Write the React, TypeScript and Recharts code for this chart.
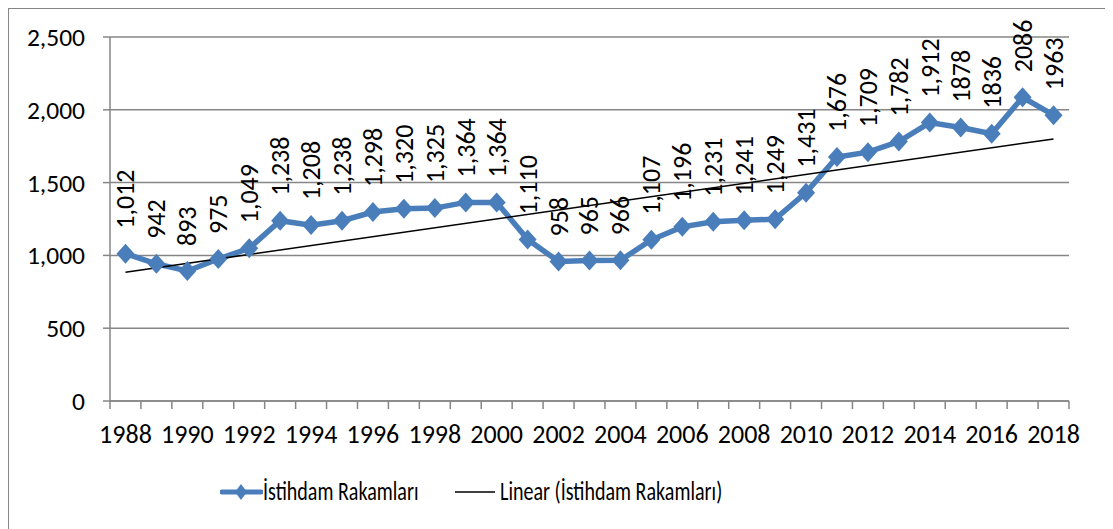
import React from 'react';
import { ComposedChart, Line, XAxis, YAxis, CartesianGrid, Legend, LabelList } from 'recharts';

// employment figures per year (thousands)
const YEARS = [
    1988, 1989, 1990, 1991, 1992, 1993, 1994, 1995, 1996, 1997, 1998, 1999, 2000, 2001, 2002, 2003,
    2004, 2005, 2006, 2007, 2008, 2009, 2010, 2011, 2012, 2013, 2014, 2015, 2016, 2017, 2018,
];
const VALUES = [
    1012, 942, 893, 975, 1049, 1238, 1208, 1238, 1298, 1320, 1325, 1364, 1364, 1110, 958, 965,
    966, 1107, 1196, 1231, 1241, 1249, 1431, 1676, 1709, 1782, 1912, 1878, 1836, 2086, 1963,
];
const LABELS = [
    '1,012', '942', '893', '975', '1,049', '1,238', '1,208', '1,238', '1,298', '1,320', '1,325', '1,364', '1,364', '1,110', '958', '965',
    '966', '1,107', '1,196', '1,231', '1,241', '1,249', '1,431', '1,676', '1,709', '1,782', '1,912', '1878', '1836', '2086', '1963',
];
// Excel linear trendline endpoints
const TREND_YEARS = [1988, 2018];
const TREND_VALUES = [885, 1800];

const Y_TICKS = [0, 500, 1000, 1500, 2000, 2500];
const X_LABEL_TICKS = [1988, 1990, 1992, 1994, 1996, 1998, 2000, 2002, 2004, 2006, 2008, 2010, 2012, 2014, 2016, 2018];

const SERIES_NAME = 'İstihdam Rakamları';
const TREND_NAME = 'Linear (İstihdam Rakamları)';

const BLUE = '#4A7EBB';
const GRAY = '#868686';
const FONT = 'Carlito, Calibri, Lato, sans-serif';

const data = YEARS.map((year, i) => ({ year, value: VALUES[i], label: LABELS[i] }));
const trendData = TREND_YEARS.map((year, i) => ({ year, trend: TREND_VALUES[i] }));
// tick marks sit between categories, like Excel
const boundaryTicks = [...YEARS.map((y) => y - 0.5), YEARS[YEARS.length - 1] + 0.5];

const renderDiamond = (props: any) => {
    const { cx, cy, index } = props;
    if (cx == null || cy == null) return <g key={`d-${index}`} />;
    return (
        <polygon
            key={`d-${index}`}
            points={`${cx},${cy - 10} ${cx + 9},${cy} ${cx},${cy + 10} ${cx - 9},${cy}`}
            fill={BLUE}
        />
    );
};

const RotatedLabel = (props: any) => {
    const { x, y, value } = props;
    const ty = y - 25;
    return (
        <text x={x} y={ty} transform={`rotate(-90, ${x}, ${ty})`} textAnchor="start" dominantBaseline="central" fontSize={26} fill="#000" fontFamily={FONT}>
            {value}
        </text>
    );
};

// legend text in the source is a condensed face
const squeezed: React.CSSProperties = { display: 'inline-block', transform: 'scaleX(0.77)', transformOrigin: 'left center', whiteSpace: 'nowrap' };

const LegendBox = () => (
    <div style={{ height: 80, position: 'relative', fontFamily: FONT, fontSize: 26, color: '#000' }}>
        <svg width={43} height={20} style={{ position: 'absolute', left: 211, top: 31 }}>
            <line x1={2} y1={10} x2={41} y2={10} stroke={BLUE} strokeWidth={5} strokeLinecap="round" />
            <polygon points="21,2 27,10 21,18 15,10" fill={BLUE} />
        </svg>
        <span style={{ ...squeezed, position: 'absolute', left: 254, top: 24 }}>{SERIES_NAME}</span>
        <svg width={41} height={16} style={{ position: 'absolute', left: 446, top: 33 }}>
            <line x1={0} y1={8} x2={40} y2={8} stroke="#000" strokeWidth={1.5} />
        </svg>
        <span style={{ ...squeezed, position: 'absolute', left: 491, top: 24 }}>{TREND_NAME}</span>
    </div>
);

export default function App() {
    return (
        <div style={{ width: 1098, height: 522, border: `1px solid ${GRAY}`, background: '#fff' }}>
            <ComposedChart width={1098} height={522} data={data} margin={{ top: 28, right: 38, bottom: 0, left: 0 }}>
                <CartesianGrid vertical={false} stroke={GRAY} strokeWidth={1.5} xAxisId={0} />
                <XAxis
                    xAxisId={0}
                    type="number"
                    dataKey="year"
                    domain={[1987.5, 2018.5]}
                    ticks={boundaryTicks}
                    interval={0}
                    tick={() => <g />}
                    tickLine={{ stroke: GRAY, strokeWidth: 1.5 }}
                    tickSize={8}
                    height={7}
                    stroke={GRAY}
                    strokeWidth={1.5}
                />
                <XAxis
                    xAxisId={1}
                    type="number"
                    dataKey="year"
                    domain={[1987.5, 2018.5]}
                    ticks={X_LABEL_TICKS}
                    interval={0}
                    axisLine={false}
                    tickLine={false}
                    tickSize={0}
                    tickMargin={17}
                    height={43}
                    tick={{ fontSize: 26, fill: '#000', fontFamily: FONT }}
                />
                <YAxis
                    domain={[0, 2500]}
                    ticks={Y_TICKS}
                    width={101}
                    tickSize={7}
                    tickMargin={18}
                    stroke={GRAY}
                    strokeWidth={1.5}
                    tickFormatter={(v: number) => v.toLocaleString('en-US')}
                    tick={{ fontSize: 25.5, fill: '#000', fontFamily: FONT }}
                />
                <Line
                    xAxisId={1}
                    type="linear"
                    dataKey="value"
                    name={SERIES_NAME}
                    stroke={BLUE}
                    strokeWidth={5.5}
                    dot={renderDiamond}
                    activeDot={false}
                    isAnimationActive={false}
                >
                    <LabelList dataKey="label" content={<RotatedLabel />} />
                </Line>
                <Line
                    xAxisId={1}
                    data={trendData}
                    type="linear"
                    dataKey="trend"
                    name={TREND_NAME}
                    stroke="#000"
                    strokeWidth={1.5}
                    dot={false}
                    activeDot={false}
                    isAnimationActive={false}
                />
                <Legend verticalAlign="bottom" content={<LegendBox />} wrapperStyle={{ left: 0, width: 1098 }} />
            </ComposedChart>
        </div>
    );
}
